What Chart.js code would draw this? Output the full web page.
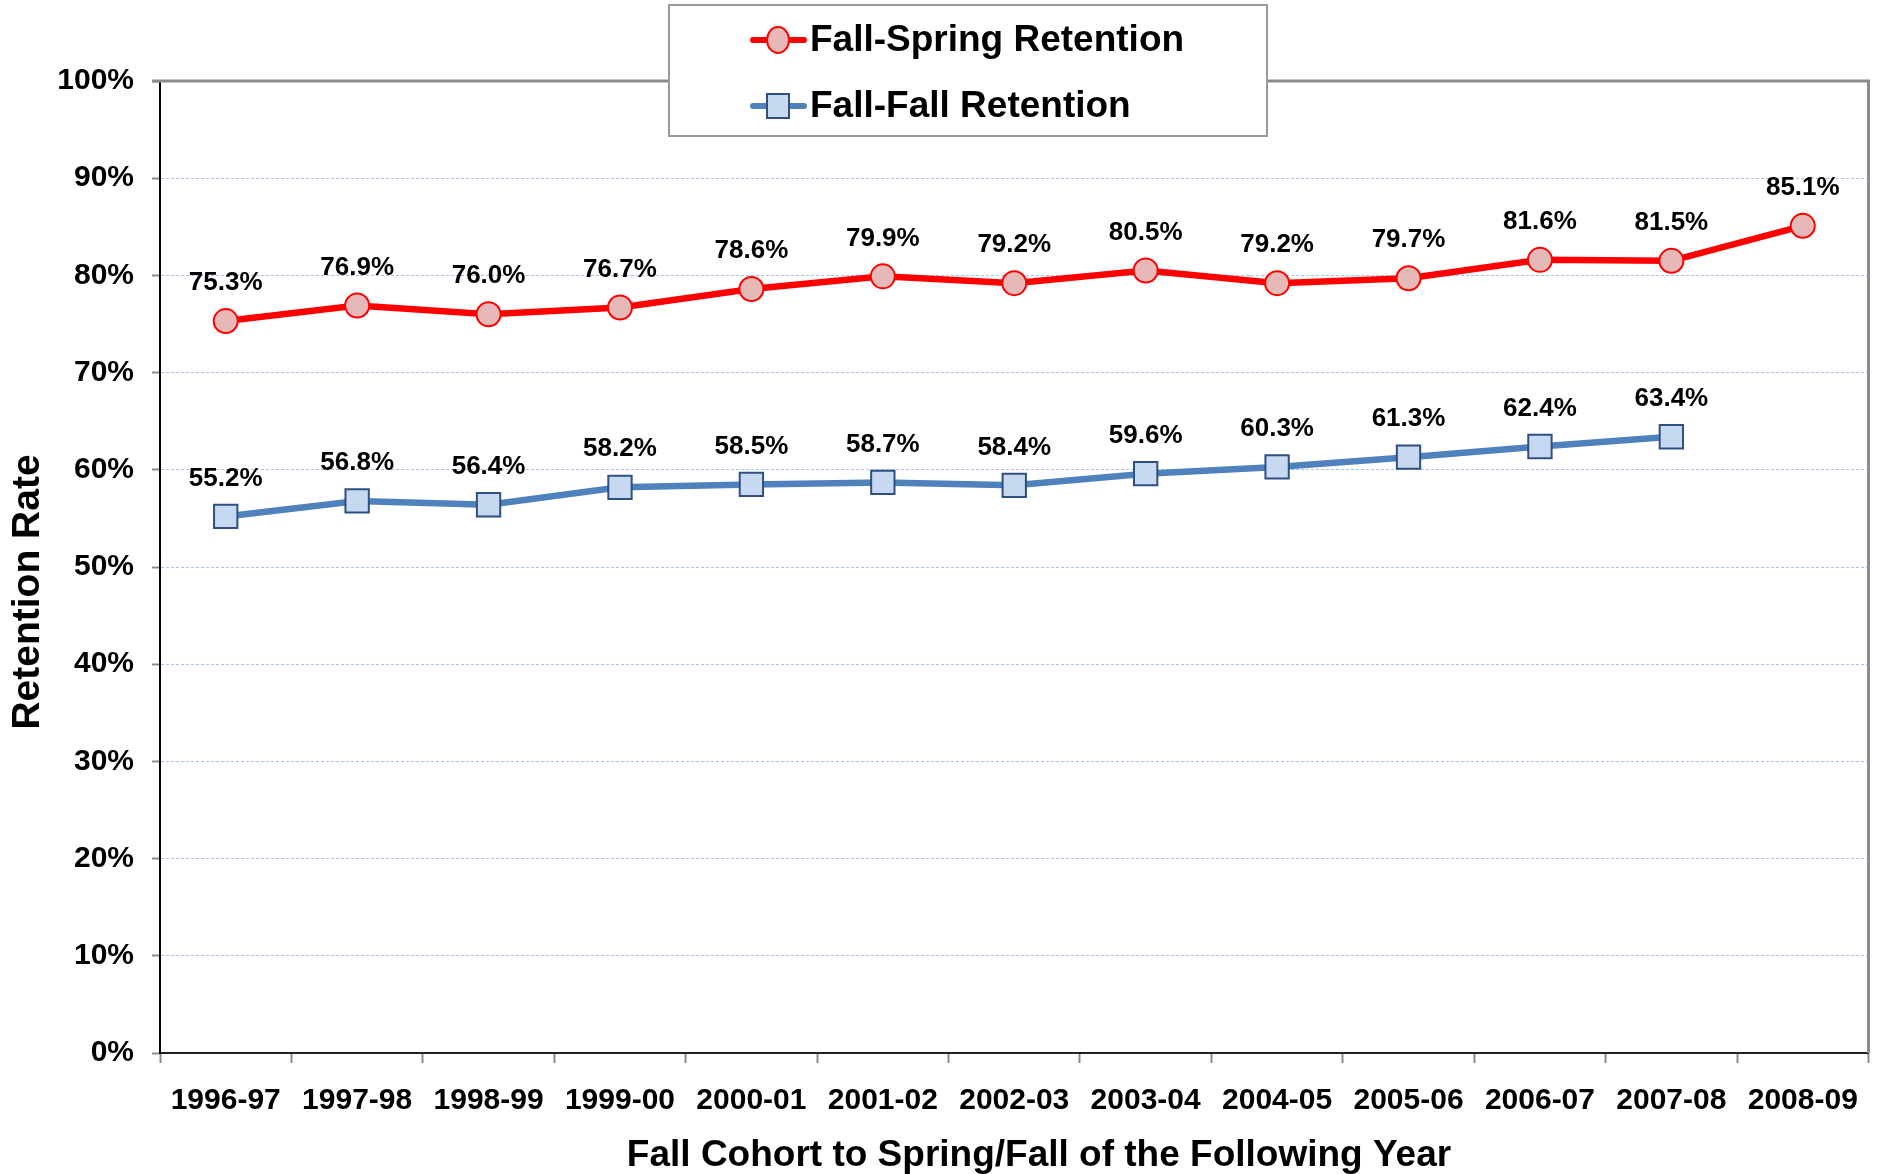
<!DOCTYPE html>
<html>
<head>
<meta charset="utf-8">
<title>Retention Rate</title>
<script src="https://cdn.jsdelivr.net/npm/chart.js@4.4.1/dist/chart.umd.min.js"></script>
<style>
  html, body { margin: 0; padding: 0; background: #fff; }
  #wrap { width: 1887px; height: 1174px; }
</style>
</head>
<body>
<div id="wrap"><canvas id="retentionChart" width="1887" height="1174"></canvas></div>
<script>
// chart data
var cohorts = ['1996-97', '1997-98', '1998-99', '1999-00', '2000-01', '2001-02', '2002-03',
  '2003-04', '2004-05', '2005-06', '2006-07', '2007-08', '2008-09'];
var fallSpring = [75.3, 76.9, 76.0, 76.7, 78.6, 79.9, 79.2, 80.5, 79.2, 79.7, 81.6, 81.5, 85.1];
var fallFall = [55.2, 56.8, 56.4, 58.2, 58.5, 58.7, 58.4, 59.6, 60.3, 61.3, 62.4, 63.4, null];
var yTicks = [0, 10, 20, 30, 40, 50, 60, 70, 80, 90, 100];

var FONT = "'Liberation Sans', Arial, sans-serif";

// value labels above each point
var pointLabels = {
  id: 'pointLabels',
  afterDatasetsDraw: function (chart) {
    var ctx = chart.ctx;
    ctx.save();
    ctx.font = 'bold 26px ' + FONT;
    ctx.fillStyle = '#000';
    ctx.textAlign = 'center';
    ctx.textBaseline = 'middle';
    chart.data.datasets.forEach(function (ds, i) {
      var meta = chart.getDatasetMeta(i);
      meta.data.forEach(function (pt, j) {
        if (ds.data[j] === null) return;
        ctx.fillText(ds.data[j].toFixed(1) + '%', pt.x, pt.y - 38);
      });
    });
    ctx.restore();
  }
};

// gray frame on top and right, axis titles, boxed legend
var extras = {
  id: 'extras',
  beforeDatasetsDraw: function (chart) {
    var ctx = chart.ctx, a = chart.chartArea;
    ctx.save();
    ctx.strokeStyle = '#8c8c8c';
    ctx.lineWidth = 3;
    ctx.beginPath();
    ctx.moveTo(a.left - 8, a.top);
    ctx.lineTo(a.right, a.top);
    ctx.lineTo(a.right, a.bottom);
    ctx.stroke();
    ctx.restore();
  },
  afterDraw: function (chart) {
    var ctx = chart.ctx;
    ctx.save();
    ctx.fillStyle = '#000';
    ctx.textAlign = 'center';
    ctx.textBaseline = 'middle';
    ctx.font = 'bold 37px ' + FONT;
    ctx.fillText('Fall Cohort to Spring/Fall of the Following Year', 1039, 1156);
    ctx.save();
    ctx.translate(28, 592);
    ctx.rotate(-Math.PI / 2);
    ctx.font = 'bold 39px ' + FONT;
    ctx.fillText('Retention Rate', 0, 0);
    ctx.restore();

    // legend box
    ctx.fillStyle = '#fff';
    ctx.fillRect(669, 5, 598, 131);
    ctx.strokeStyle = '#999';
    ctx.lineWidth = 2;
    ctx.strokeRect(669, 5, 598, 131);
    var rows = [40, 106];
    chart.data.datasets.forEach(function (ds, i) {
      var y = rows[i];
      ctx.strokeStyle = ds.borderColor;
      ctx.lineWidth = 6;
      ctx.lineCap = 'round';
      ctx.beginPath();
      ctx.moveTo(753, y);
      ctx.lineTo(804, y);
      ctx.stroke();
      ctx.fillStyle = ds.pointBackgroundColor;
      ctx.strokeStyle = ds.pointBorderColor;
      ctx.lineWidth = 2;
      ctx.beginPath();
      if (ds.pointStyle === 'rect') {
        ctx.rect(767, y - 12, 22, 24);
      } else {
        ctx.ellipse(778, y, 11, 13, 0, 0, Math.PI * 2);
      }
      ctx.fill();
      ctx.stroke();
      ctx.fillStyle = '#000';
      ctx.textAlign = 'left';
      ctx.font = 'bold 37px ' + FONT;
      ctx.fillText(ds.label, 810, y + 1);
    });
    ctx.restore();
  }
};

var ctx = document.getElementById('retentionChart').getContext('2d');
var retentionChart = new Chart(ctx, {
  type: 'line',
  data: {
    labels: cohorts,
    datasets: [{
      label: 'Fall-Spring Retention',
      data: fallSpring,
      borderColor: '#ff0000',
      borderWidth: 6.5,
      pointStyle: 'circle',
      pointRadius: 12,
      pointBorderWidth: 2,
      pointBackgroundColor: '#e6b9b8',
      pointBorderColor: '#ff0000',
      tension: 0
    }, {
      label: 'Fall-Fall Retention',
      data: fallFall,
      borderColor: '#4f81bd',
      borderWidth: 6.5,
      pointStyle: 'rect',
      pointRadius: 16.5,
      pointBorderWidth: 2,
      pointBackgroundColor: '#c6d9f1',
      pointBorderColor: '#2e4f80',
      tension: 0
    }]
  },
  options: {
    responsive: false,
    animation: false,
    layout: { padding: { top: 81, right: 13, left: 0, bottom: 0 } },
    plugins: {
      legend: { display: false },
      tooltip: { enabled: false }
    },
    scales: {
      x: {
        offset: true,
        afterFit: function (scale) {
          scale.height = 121;
          scale.paddingLeft = 0;
          scale.paddingRight = 0;
        },
        grid: {
          offset: true,
          drawOnChartArea: false,
          drawTicks: true,
          tickLength: 10,
          tickColor: '#8c8c8c',
          tickWidth: 2
        },
        border: { color: '#222', width: 2 },
        ticks: {
          color: '#000',
          padding: 20,
          maxRotation: 0,
          autoSkip: false,
          font: { family: FONT, size: 30, weight: 'bold' }
        }
      },
      y: {
        min: 0,
        max: 100,
        afterFit: function (scale) { scale.width = 160; },
        afterBuildTicks: function (scale) {
          scale.ticks = yTicks.map(function (v) { return { value: v }; });
        },
        grid: {
          color: '#a9c1e6',
          lineWidth: 1,
          tickColor: '#8c8c8c',
          tickLength: 8,
          tickWidth: 2,
          tickBorderDash: []
        },
        border: { color: '#000', width: 2, dash: [3, 2] },
        ticks: {
          color: '#000',
          padding: 18,
          font: { family: FONT, size: 30, weight: 'bold' },
          callback: function (v) { return v + '%'; }
        }
      }
    }
  },
  plugins: [pointLabels, extras]
});
</script>
</body>
</html>
